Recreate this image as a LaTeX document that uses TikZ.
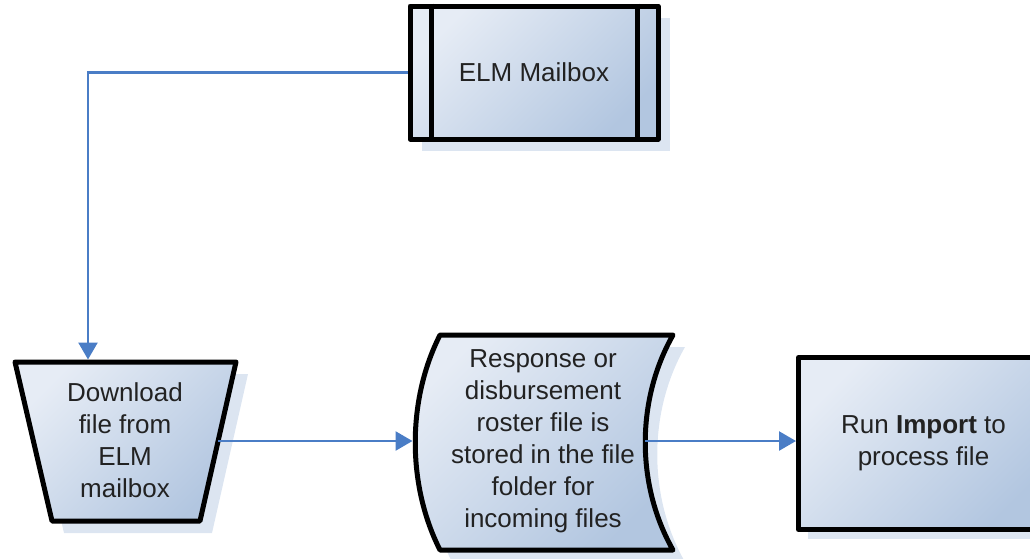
\documentclass[tikz,border=0pt]{standalone}
\usepackage{fontspec}
\setmainfont{Liberation Sans}
\usetikzlibrary{arrows.meta}
\definecolor{arr}{HTML}{4A7DC6}
\definecolor{shad}{HTML}{DCE5F1}
\definecolor{lt}{HTML}{E6ECF5}
\definecolor{dk}{HTML}{B2C6E0}
\definecolor{txt}{HTML}{222222}
\tikzset{
  boxshape/.style={draw=black, line width=5pt, line join=round, top color=lt, bottom color=dk, shading angle=45},
  lbl/.style={font=\fontsize{26}{32}\selectfont, text=txt, align=center, inner sep=0pt},
  conn/.style={draw=arr, line width=2.5pt, -{Triangle[length=17pt,width=19pt]}},
  shadowfill/.style={fill=shad}
}
\begin{document}
\begin{tikzpicture}[x=1pt,y=-1pt]
\useasboundingbox (0,0) rectangle (1030,558);
\clip (0,0) rectangle (1030,558);
% shadows
\fill[shadowfill] (422,18) rectangle (670,151);
\fill[shadowfill] (27,374) -- (248,374) -- (212,533) -- (64,533) -- cycle;
\fill[shadowfill] (452,347) -- (685,347) .. controls (648,412) and (648,497) .. (685,562) -- (452,562) .. controls (419,497) and (419,412) .. (452,347) -- cycle;
\fill[shadowfill] (808,367) rectangle (1057,539);
% ELM Mailbox
\node[boxshape, lbl, minimum width=248pt, minimum height=133pt] (mb) at (534,72.5) {ELM Mailbox};
\draw[line width=5pt] ([xshift=24pt]mb.north west) -- ([xshift=24pt]mb.south west);
\draw[line width=5pt] ([xshift=-23pt]mb.north east) -- ([xshift=-23pt]mb.south east);
% Download trapezoid
\draw[boxshape] (15,362) -- (236,362) -- (200,521) -- (52,521) -- cycle;
\node[lbl] (dl) at (125,440) {Download\\file from\\ELM\\mailbox};
\coordinate (dlT) at (88,359.5);
\coordinate (dlR) at (218,441);
% Document shape
\draw[boxshape] (440,335) -- (673,335) .. controls (636,400) and (636,485) .. (673,550) -- (440,550) .. controls (407,485) and (407,400) .. (440,335) -- cycle;
\node[lbl] (doc) at (543,441) {Response or\\disbursement\\roster file is\\stored in the file\\folder for\\incoming files};
\coordinate (docL) at (412.5,441);
\coordinate (docR) at (645,441);
% Run Import
\node[boxshape, lbl, minimum width=250pt, minimum height=172pt, anchor=north west] (run) at (796,355) {Run \textbf{Import} to\\process file};
% connectors
\draw[conn] (mb.west) -| (dlT);
\draw[conn] (dlR) -- (docL);
\draw[conn] (docR) -- (run.west |- docR);
\end{tikzpicture}
\end{document}
